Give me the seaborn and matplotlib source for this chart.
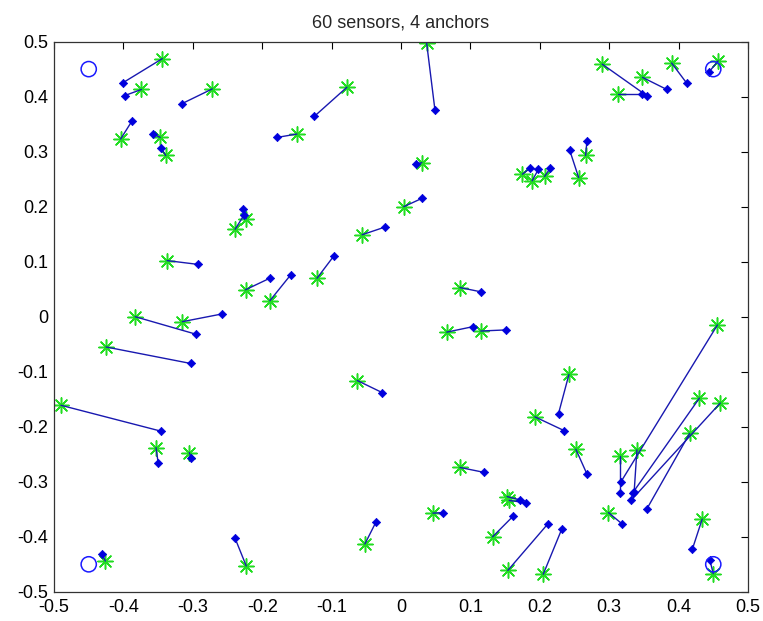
import numpy as np
import pandas as pd
import seaborn as sns
import matplotlib
matplotlib.use("Agg")
import matplotlib.pyplot as plt

# true sensor positions (green stars)
true_x = [-0.344, -0.374, -0.272, -0.404, -0.347, -0.339, -0.150, -0.223, -0.239,
          -0.078, 0.037, 0.030, 0.004, -0.056,
          0.290, 0.312, 0.348, 0.390, 0.457, 0.175, 0.189, 0.207, 0.256, 0.266,
          -0.337, -0.224, -0.189, -0.383, -0.315, -0.425, -0.121,
          0.085, 0.066, 0.115, -0.063,
          -0.490, -0.353, -0.305, -0.426, -0.223,
          -0.052, 0.046, 0.085, 0.153, 0.156, 0.132, 0.154, 0.205,
          0.242, 0.193, 0.252, 0.456, 0.315, 0.340, 0.430, 0.460, 0.416, 0.299, 0.434, 0.450]
true_y = [0.469, 0.413, 0.414, 0.323, 0.326, 0.293, 0.332, 0.178, 0.159,
          0.417, 0.497, 0.280, 0.200, 0.149,
          0.459, 0.404, 0.435, 0.461, 0.465, 0.259, 0.247, 0.255, 0.253, 0.293,
          0.102, 0.049, 0.029, 0.000, -0.009, -0.055, 0.070,
          0.053, -0.028, -0.026, -0.116,
          -0.161, -0.238, -0.247, -0.444, -0.453,
          -0.413, -0.357, -0.274, -0.327, -0.334, -0.400, -0.461, -0.468,
          -0.105, -0.182, -0.241, -0.015, -0.253, -0.242, -0.148, -0.157, -0.212, -0.356, -0.368, -0.467]

# estimated positions (blue dots)
est_x = [-0.401, -0.398, -0.316, -0.388, -0.358, -0.346, -0.178, -0.228, -0.226,
         -0.125, 0.049, 0.021, 0.030, -0.023,
         0.355, 0.347, 0.383, 0.412, 0.444, 0.186, 0.198, 0.215, 0.243, 0.268,
         -0.292, -0.189, -0.159, -0.295, -0.258, -0.303, -0.097,
         0.116, 0.104, 0.151, -0.027,
         -0.346, -0.350, -0.302, -0.431, -0.239,
         -0.036, 0.061, 0.120, 0.172, 0.180, 0.162, 0.212, 0.232,
         0.227, 0.235, 0.268, 0.317, 0.315, 0.336, 0.334, 0.332, 0.354, 0.318, 0.420, 0.445]
est_y = [0.425, 0.402, 0.387, 0.355, 0.332, 0.307, 0.326, 0.195, 0.185,
         0.364, 0.375, 0.277, 0.215, 0.163,
         0.401, 0.404, 0.413, 0.424, 0.445, 0.270, 0.268, 0.270, 0.303, 0.320,
         0.095, 0.070, 0.076, -0.032, 0.005, -0.085, 0.110,
         0.045, -0.018, -0.024, -0.138,
         -0.208, -0.265, -0.257, -0.431, -0.403,
         -0.373, -0.356, -0.283, -0.333, -0.338, -0.362, -0.376, -0.385,
         -0.176, -0.207, -0.286, -0.300, -0.321, -0.318, -0.320, -0.333, -0.350, -0.376, -0.422, -0.442]

anchor_x = [-0.45, 0.45, -0.45, 0.45]
anchor_y = [0.45, 0.45, -0.45, -0.45]

tick_labels = ["-0.5", "-0.4", "-0.3", "-0.2", "-0.1", "0", "0.1", "0.2", "0.3", "0.4", "0.5"]

sensors = pd.DataFrame({"tx": true_x, "ty": true_y, "ex": est_x, "ey": est_y})
anchors = pd.DataFrame({"x": anchor_x, "y": anchor_y})

sns.set_style("white")
plt.rcParams["font.family"] = ["Liberation Sans", "DejaVu Sans"]

fig = plt.figure(figsize=(7.63, 6.21), dpi=100)
ax = fig.add_axes([0.0708, 0.047, 0.9095, 0.886])

# MATLAB-like asterisk: 8 arms
sns.scatterplot(data=sensors, x="tx", y="ty", marker=(8, 2, 0), s=120, color="#22dd22",
                linewidth=1.1, ax=ax, zorder=2)
ax.plot(np.vstack([sensors.tx, sensors.ex]), np.vstack([sensors.ty, sensors.ey]),
        color="#1818b0", lw=1.0, zorder=3)
sns.scatterplot(data=sensors, x="ex", y="ey", marker="D", s=18, color="#0000dd",
                edgecolor="#0000dd", linewidth=0.5, ax=ax, zorder=4)
sns.scatterplot(data=anchors, x="x", y="y", marker="o", s=120, facecolor="none",
                edgecolor="#1a1aff", linewidth=1.1, ax=ax, zorder=5)

ax.set_xlim(-0.5, 0.5)
ax.set_ylim(-0.5, 0.5)
ax.set_xticks(np.linspace(-0.5, 0.5, 11))
ax.set_yticks(np.linspace(-0.5, 0.5, 11))
ax.set_xticklabels(tick_labels)
ax.set_yticklabels(tick_labels)
ax.tick_params(direction="in", length=5, width=0.8, top=True, right=True,
               labelsize=13, colors="black")
ax.tick_params(axis="x", pad=5)
ax.tick_params(axis="y", pad=4)
for s in ax.spines.values():
    s.set_color("#333333")
    s.set_linewidth(0.9)
ax.set_xlabel("")
ax.set_ylabel("")
ax.set_title("60 sensors, 4 anchors", fontsize=13, pad=10)

fig.savefig("out.png", dpi=100, facecolor="white")
